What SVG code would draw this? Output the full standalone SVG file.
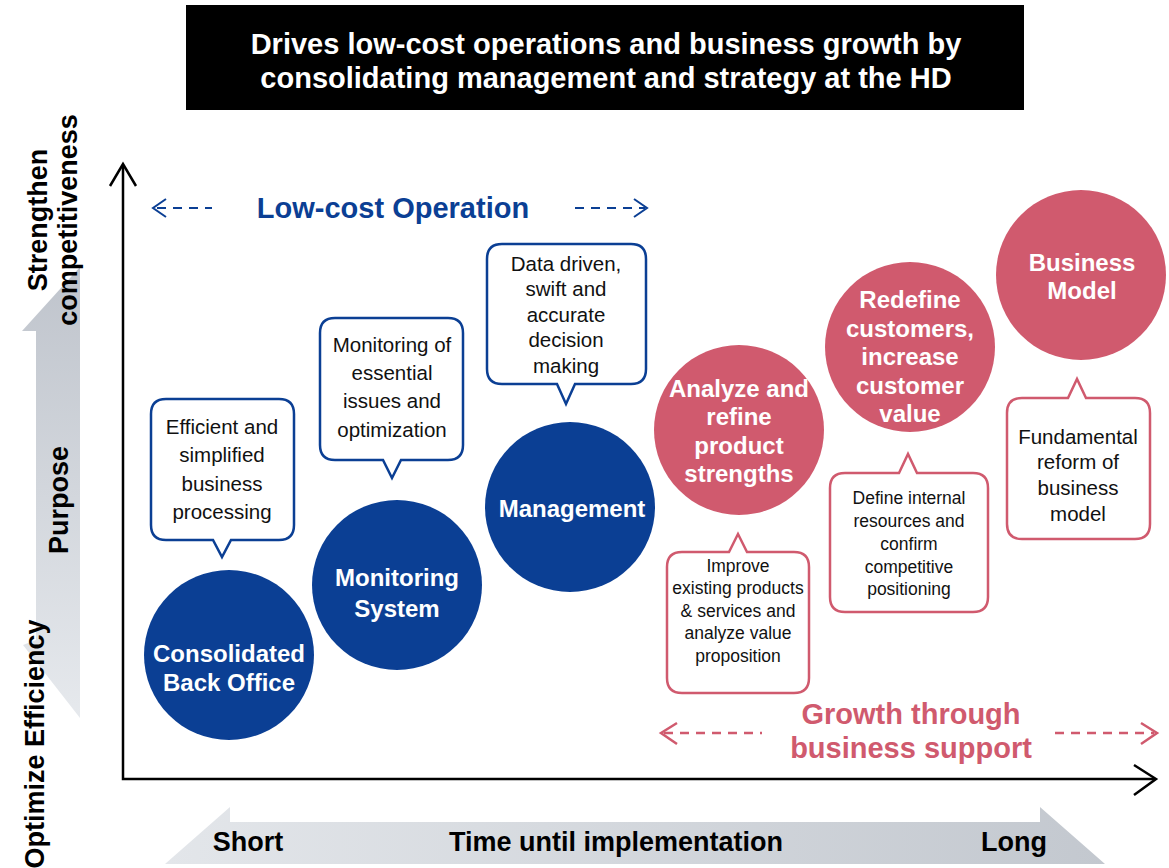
<svg xmlns="http://www.w3.org/2000/svg" width="1169" height="868" viewBox="0 0 1169 868">
  <defs>
    <linearGradient id="gV" x1="0" y1="0" x2="0" y2="1">
      <stop offset="0" stop-color="#bfc4cc"/>
      <stop offset="1" stop-color="#e6e9ed"/>
    </linearGradient>
    <linearGradient id="gH" x1="0" y1="0" x2="1" y2="0">
      <stop offset="0" stop-color="#e3e6ea"/>
      <stop offset="1" stop-color="#c3c8cf"/>
    </linearGradient>
  </defs>
  <style>
    .t{font-family:"Liberation Sans",Arial,sans-serif;text-anchor:middle}
    .b{font-weight:bold}
    .blue{fill:#0b3f94}
    .pink{fill:#d05a6e}
    .cap{fill:#fff;font-size:24px;font-weight:bold}
    .note{fill:#111;font-size:20.5px}
    .small{fill:#111;font-size:17.5px}
    .bn{fill:#fff;stroke:#0b3f94;stroke-width:2.5}
    .pn{fill:#fff;stroke:#d05a6e;stroke-width:2.5}
    .ax{fill:none;stroke:#000;stroke-width:2.5}
    .dashB{fill:none;stroke:#0b3f94;stroke-width:2;stroke-dasharray:9 7}
    .dashP{fill:none;stroke:#d05a6e;stroke-width:2.5;stroke-dasharray:9 7}
    .headB{fill:none;stroke:#0b3f94;stroke-width:2}
    .headP{fill:none;stroke:#d05a6e;stroke-width:2.5}
    .lbl{fill:#000;font-size:27px;font-weight:bold}
    .big{font-size:29px;font-weight:bold}
  </style>

  <!-- title banner -->
  <g id="title">
    <rect x="186" y="5" width="838" height="105" fill="#000"/>
    <text class="t big" x="606" y="54" fill="#fff">Drives low-cost operations and business growth by</text>
    <text class="t big" x="606" y="88" fill="#fff">consolidating management and strategy at the HD</text>
  </g>

  <!-- background gray arrows -->
  <g id="purpose-band">
    <polygon points="80,267 22,331 36,331 36,640 23,645 80,718" fill="url(#gV)"/>
  </g>
  <g id="time-band">
    <polygon points="165,864 230,807 230,822 1040,822 1040,807 1105,864" fill="url(#gH)"/>
  </g>

  <!-- axes -->
  <g id="axes">
    <polyline class="ax" points="123,165 123,779 1155,779"/>
    <polyline class="ax" points="110,186 123,164 136,186"/>
    <polyline class="ax" points="1134,765 1156,779 1134,795"/>
  </g>

  <!-- axis labels -->
  <g id="axis-labels">
    <text class="t lbl" transform="translate(47,220) rotate(-90)">Strengthen</text>
    <text class="t lbl" transform="translate(77,220) rotate(-90)">competitiveness</text>
    <text class="t lbl" transform="translate(68,500) rotate(-90)">Purpose</text>
    <text class="t lbl" transform="translate(44,744) rotate(-90)" font-size="26">Optimize Efficiency</text>
    <text class="t lbl" x="248" y="851">Short</text>
    <text class="t lbl" x="616" y="851">Time until implementation</text>
    <text class="t lbl" x="1014" y="851">Long</text>
  </g>

  <!-- band headings with dashed arrows -->
  <g id="connectors">
    <line class="dashB" x1="157" y1="208" x2="212" y2="208"/>
    <polyline class="headB" points="166,199 153,208 166,217"/>
    <line class="dashB" x1="575" y1="208" x2="645" y2="208"/>
    <polyline class="headB" points="634,199 647,208 634,217"/>
    <line class="dashP" x1="664" y1="733" x2="762" y2="733"/>
    <polyline class="headP" points="677,723 661,733 677,744"/>
    <line class="dashP" x1="1055" y1="733" x2="1154" y2="733"/>
    <polyline class="headP" points="1141,723 1157,733 1141,744"/>
  </g>
  <g id="low-cost-heading">
    <text class="t big blue" x="393" y="218">Low-cost Operation</text>
  </g>
  <g id="growth-heading">
    <text class="t big pink" x="911" y="724">Growth through</text>
    <text class="t big pink" x="911" y="758">business support</text>
  </g>

  <!-- blue initiatives -->
  <g id="back-office">
    <circle class="blue" cx="229" cy="655" r="85"/>
    <text class="t cap" x="229" y="662">Consolidated</text>
    <text class="t cap" x="229" y="691">Back Office</text>
  </g>
  <g id="monitoring-system">
    <circle class="blue" cx="397" cy="585" r="85"/>
    <text class="t cap" x="397" y="586" font-size="28">Monitoring</text>
    <text class="t cap" x="397" y="617" font-size="28">System</text>
  </g>
  <g id="management">
    <circle class="blue" cx="570" cy="507" r="85"/>
    <text class="t cap" x="572" y="517">Management</text>
  </g>

  <!-- pink initiatives -->
  <g id="product-strengths">
    <circle class="pink" cx="739" cy="430" r="85"/>
    <text class="t cap" x="739" y="397">Analyze and</text>
    <text class="t cap" x="739" y="425">refine</text>
    <text class="t cap" x="739" y="454">product</text>
    <text class="t cap" x="739" y="482">strengths</text>
  </g>
  <g id="customer-value">
    <circle class="pink" cx="910" cy="347" r="85"/>
    <text class="t cap" x="910" y="308">Redefine</text>
    <text class="t cap" x="910" y="337">customers,</text>
    <text class="t cap" x="910" y="365">increase</text>
    <text class="t cap" x="910" y="394">customer</text>
    <text class="t cap" x="910" y="422">value</text>
  </g>
  <g id="business-model">
    <circle class="pink" cx="1081" cy="275" r="85"/>
    <text class="t cap" x="1082" y="271">Business</text>
    <text class="t cap" x="1082" y="299">Model</text>
  </g>

  <!-- callouts, blue (tail below) -->
  <g id="note-efficient">
    <path class="bn" d="M166,399 H279 Q294,399 294,414 V525 Q294,540 279,540 H231 L222,557 L213,540 H166 Q151,540 151,525 V414 Q151,399 166,399 Z"/>
    <text class="t note" x="222" y="434">Efficient and</text>
    <text class="t note" x="222" y="462">simplified</text>
    <text class="t note" x="222" y="491">business</text>
    <text class="t note" x="222" y="519">processing</text>
  </g>
  <g id="note-monitoring">
    <path class="bn" d="M335,318 H448 Q463,318 463,333 V445 Q463,460 448,460 H401 L392,478 L383,460 H335 Q320,460 320,445 V333 Q320,318 335,318 Z"/>
    <text class="t note" x="392" y="352">Monitoring of</text>
    <text class="t note" x="392" y="380">essential</text>
    <text class="t note" x="392" y="408">issues and</text>
    <text class="t note" x="392" y="437">optimization</text>
  </g>
  <g id="note-data">
    <path class="bn" d="M502,244 H631 Q646,244 646,259 V369 Q646,384 631,384 H575 L566,404 L557,384 H502 Q487,384 487,369 V259 Q487,244 502,244 Z"/>
    <text class="t note" x="566" y="271">Data driven,</text>
    <text class="t note" x="566" y="296">swift and</text>
    <text class="t note" x="566" y="322">accurate</text>
    <text class="t note" x="566" y="347">decision</text>
    <text class="t note" x="566" y="373">making</text>
  </g>

  <!-- callouts, pink (tail above) -->
  <g id="note-improve">
    <path class="pn" d="M682,552 H729 L738,534 L747,552 H794 Q809,552 809,567 V678 Q809,693 794,693 H682 Q667,693 667,678 V567 Q667,552 682,552 Z"/>
    <text class="t small" x="738" y="572">Improve</text>
    <text class="t small" x="738" y="594">existing products</text>
    <text class="t small" x="738" y="617">&amp; services and</text>
    <text class="t small" x="738" y="639">analyze value</text>
    <text class="t small" x="738" y="662">proposition</text>
  </g>
  <g id="note-define">
    <path class="pn" d="M845,473 H899 L908,454 L917,473 H973 Q988,473 988,488 V597 Q988,612 973,612 H845 Q830,612 830,597 V488 Q830,473 845,473 Z"/>
    <text class="t small" x="909" y="504">Define internal</text>
    <text class="t small" x="909" y="527">resources and</text>
    <text class="t small" x="909" y="550">confirm</text>
    <text class="t small" x="909" y="573">competitive</text>
    <text class="t small" x="909" y="595">positioning</text>
  </g>
  <g id="note-reform">
    <path class="pn" d="M1022,398 H1068 L1077,379 L1086,398 H1135 Q1150,398 1150,413 V524 Q1150,539 1135,539 H1022 Q1007,539 1007,524 V413 Q1007,398 1022,398 Z"/>
    <text class="t note" x="1078" y="444">Fundamental</text>
    <text class="t note" x="1078" y="469">reform of</text>
    <text class="t note" x="1078" y="495">business</text>
    <text class="t note" x="1078" y="521">model</text>
  </g>
</svg>
